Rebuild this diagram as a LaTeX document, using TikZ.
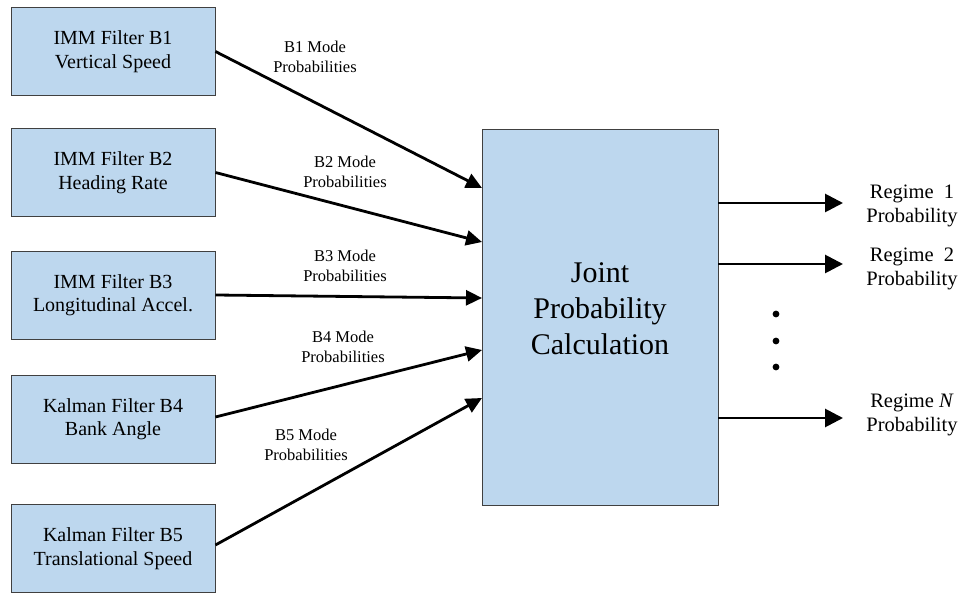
\documentclass[tikz,border=0pt]{standalone}
\usepackage{fontspec}
\setmainfont{Liberation Serif}
\usetikzlibrary{arrows.meta}

\definecolor{boxblue}{HTML}{BDD7EE}
\tikzset{
  filterbox/.style={draw=black!75, line width=0.9pt, fill=boxblue,
    minimum width=204pt, minimum height=88pt, inner sep=0pt,
    align=center, font=\fontsize{20}{23.5}\selectfont},
  flow/.style={line width=2.8pt, -{Triangle[length=16pt,width=15pt]}},
  outflow/.style={line width=2.8pt, -{Triangle[length=18pt,width=18pt]}},
  flowlabel/.style={align=center, font=\fontsize{16.5}{20.5}\selectfont, inner sep=0pt},
  outlabel/.style={align=center, font=\fontsize{20.5}{23.5}\selectfont, inner sep=0pt},
}

\begin{document}
\begin{tikzpicture}[x=1pt, y=-1pt]
  \useasboundingbox (0,0) rectangle (961,593);

  % input filters
  \node[filterbox] (b1) at (113,51.5)  {IMM Filter B1\\Vertical Speed};
  \node[filterbox] (b2) at (113,172.5) {IMM Filter B2\\Heading Rate};
  \node[filterbox] (b3) at (113,295)   {IMM Filter B3\\Longitudinal Accel.};
  \node[filterbox] (b4) at (113,419)   {Kalman Filter B4\\Bank Angle};
  \node[filterbox] (b5) at (113,548.5) {Kalman Filter B5\\Translational Speed};

  % fusion block
  \node[draw=black!75, line width=0.9pt, fill=boxblue, minimum width=236pt,
        minimum height=376pt, inner sep=0pt] (joint) at (600,317) {};
  \node[align=center, font=\fontsize{30}{36}\selectfont, inner sep=0pt]
        (jtext) at (600,309) {Joint\\Probability\\Calculation};

  % entry points on the fusion block
  \coordinate (in1) at (482,188);
  \coordinate (in2) at (482,242);
  \coordinate (in3) at (482,298);
  \coordinate (in4) at (482,350);
  \coordinate (in5) at (482,398);

  \draw[flow] (b1.east) -- (in1);
  \draw[flow] (b2.east) -- (in2);
  \draw[flow] (b3.east) -- (in3);
  \draw[flow] ([yshift=2pt]b4.east) -- (in4);
  \draw[flow] ([yshift=3.5pt]b5.east) -- (in5);

  % mode probability labels
  \node[flowlabel] (l1) at (315,57)  {B1 Mode\\Probabilities};
  \node[flowlabel] (l2) at (345,172) {B2 Mode\\Probabilities};
  \node[flowlabel] (l3) at (345,266) {B3 Mode\\Probabilities};
  \node[flowlabel] (l4) at (343,347) {B4 Mode\\Probabilities};
  \node[flowlabel] (l5) at (306,445) {B5 Mode\\Probabilities};

  % outputs
  \coordinate (o1) at (843,203);
  \coordinate (o2) at (843,264);
  \coordinate (oN) at (843,418);
  \draw[outflow] (joint.east |- o1) -- (o1);
  \draw[outflow] (joint.east |- o2) -- (o2);
  \draw[outflow] (joint.east |- oN) -- (oN);

  \node[outlabel] (r1) at (912,206) {Regime\ \ 1\\Probability};
  \node[outlabel] (r2) at (912,269) {Regime\ \ 2\\Probability};
  \node[outlabel] (rN) at (912,415) {Regime \textit{N}\\Probability};

  % ellipsis dots
  \fill (776,314) circle (3.4pt);
  \fill (776,341) circle (3.4pt);
  \fill (776,367) circle (3.4pt);
\end{tikzpicture}
\end{document}
